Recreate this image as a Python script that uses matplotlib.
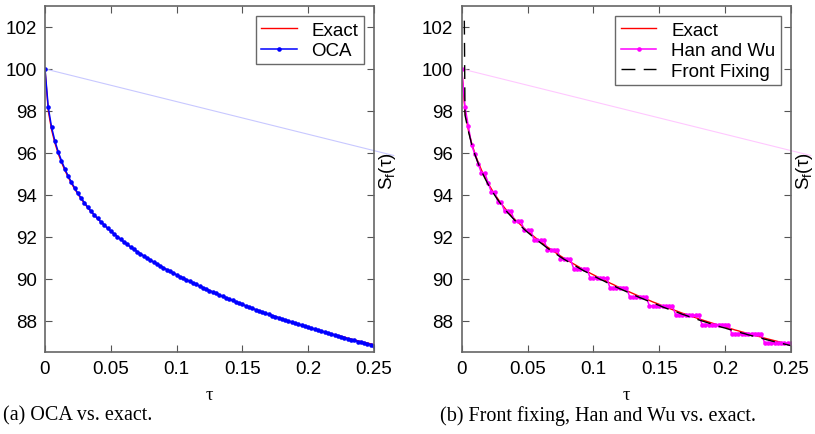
import numpy as np
import matplotlib
matplotlib.use('Agg')
import matplotlib.pyplot as plt

# time grid, dt = 0.0025
tau = np.linspace(0, 0.25, 101)

exact = [
    100.00, 98.00, 97.10, 96.47, 95.97, 95.55, 95.18, 94.85, 94.55, 94.28,
    94.03, 93.80, 93.58, 93.38, 93.19, 93.02, 92.85, 92.70, 92.55, 92.40,
    92.26, 92.13, 92.00, 91.87, 91.75, 91.63, 91.51, 91.40, 91.29, 91.19,
    91.08, 90.98, 90.89, 90.79, 90.70, 90.61, 90.52, 90.43, 90.35, 90.26,
    90.18, 90.10, 90.02, 89.95, 89.87, 89.79, 89.72, 89.64, 89.57, 89.50,
    89.43, 89.36, 89.29, 89.22, 89.15, 89.09, 89.02, 88.96, 88.89, 88.83,
    88.77, 88.70, 88.64, 88.58, 88.52, 88.47, 88.41, 88.35, 88.30, 88.24,
    88.19, 88.14, 88.08, 88.03, 87.98, 87.93, 87.88, 87.83, 87.78, 87.73,
    87.69, 87.64, 87.60, 87.55, 87.51, 87.46, 87.42, 87.37, 87.33, 87.29,
    87.25, 87.21, 87.16, 87.12, 87.08, 87.04, 87.00, 86.96, 86.93, 86.89,
    86.85]

oca = [
    100.00, 98.16, 97.22, 96.57, 96.06, 95.63, 95.25, 94.91, 94.61, 94.33,
    94.07, 93.84, 93.62, 93.41, 93.22, 93.04, 92.87, 92.71, 92.56, 92.41,
    92.27, 92.13, 92.00, 91.87, 91.75, 91.63, 91.51, 91.40, 91.29, 91.19,
    91.08, 90.98, 90.89, 90.79, 90.70, 90.61, 90.52, 90.43, 90.35, 90.26,
    90.18, 90.10, 90.02, 89.95, 89.87, 89.79, 89.72, 89.64, 89.57, 89.50,
    89.43, 89.36, 89.29, 89.22, 89.15, 89.09, 89.02, 88.96, 88.89, 88.83,
    88.77, 88.70, 88.64, 88.58, 88.52, 88.47, 88.41, 88.35, 88.30, 88.24,
    88.19, 88.14, 88.08, 88.03, 87.98, 87.93, 87.88, 87.83, 87.78, 87.73,
    87.69, 87.64, 87.59, 87.54, 87.50, 87.45, 87.40, 87.35, 87.31, 87.27,
    87.22, 87.18, 87.13, 87.09, 87.05, 87.00, 86.96, 86.92, 86.88, 86.84,
    86.80]

han_wu = [
    100.00, 98.18, 97.28, 96.38, 95.93, 95.48, 95.03, 95.03, 94.58, 94.13,
    94.13, 93.65, 93.65, 93.22, 93.22, 93.22, 92.74, 92.74, 92.74, 92.30,
    92.30, 92.30, 91.82, 91.82, 91.82, 91.82, 91.38, 91.38, 91.38, 91.38,
    90.92, 90.92, 90.92, 90.92, 90.48, 90.48, 90.48, 90.48, 90.48, 90.03,
    90.03, 90.03, 90.03, 90.03, 90.03, 89.57, 89.57, 89.57, 89.57, 89.57,
    89.57, 89.13, 89.13, 89.13, 89.13, 89.13, 89.13, 88.70, 88.70, 88.70,
    88.70, 88.70, 88.70, 88.70, 88.70, 88.25, 88.25, 88.25, 88.25, 88.25,
    88.25, 88.25, 88.25, 87.81, 87.81, 87.81, 87.81, 87.81, 87.81, 87.81,
    87.81, 87.81, 87.38, 87.38, 87.38, 87.38, 87.38, 87.38, 87.38, 87.38,
    87.38, 87.38, 86.92, 86.92, 86.92, 86.92, 86.92, 86.92, 86.92, 86.92,
    86.92]

# front fixing starts slightly after 0 with an overshoot
ff_tau = np.r_[0.002, tau[1:]]
front_fix = [
    102.30, 97.80, 97.05, 96.42, 95.92, 95.50, 95.13, 94.80, 94.50, 94.23,
    93.98, 93.75, 93.53, 93.33, 93.14, 92.97, 92.80, 92.65, 92.50, 92.35,
    92.21, 92.08, 91.95, 91.82, 91.70, 91.58, 91.46, 91.35, 91.24, 91.14,
    91.03, 90.93, 90.84, 90.74, 90.65, 90.56, 90.47, 90.38, 90.30, 90.21,
    90.13, 90.05, 89.97, 89.90, 89.82, 89.74, 89.67, 89.59, 89.52, 89.45,
    89.38, 89.31, 89.24, 89.17, 89.10, 89.04, 88.97, 88.91, 88.84, 88.78,
    88.72, 88.65, 88.59, 88.53, 88.47, 88.42, 88.36, 88.30, 88.25, 88.19,
    88.14, 88.09, 88.03, 87.98, 87.93, 87.88, 87.83, 87.78, 87.73, 87.68,
    87.64, 87.59, 87.55, 87.50, 87.46, 87.41, 87.37, 87.32, 87.28, 87.24,
    87.20, 87.16, 87.11, 87.07, 87.03, 86.99, 86.95, 86.91, 86.88, 86.84,
    86.80]

# faint line running to the S_f label
guide_tau = [0.0, 0.265]
guide_val = [100.0, 95.87]

xticks = [0, 0.05, 0.1, 0.15, 0.2, 0.25]
xticklabels = ['0', '0.05', '0.1', '0.15', '0.2', '0.25']
yticks = [88, 90, 92, 94, 96, 98, 100, 102]
captions = ['(a) OCA vs. exact.', '(b) Front fixing, Han and Wu vs. exact.']

plt.rcParams['font.family'] = ['Liberation Sans', 'DejaVu Sans']
plt.rcParams['mathtext.fontset'] = 'custom'
plt.rcParams['mathtext.rm'] = 'Liberation Sans'

fig = plt.figure(figsize=(8.15, 4.35), dpi=100)
fig.patch.set_facecolor('white')
ax1 = fig.add_axes([0.0552, 0.1885, 0.4037, 0.7954])
ax2 = fig.add_axes([0.5665, 0.1885, 0.4041, 0.7954])

ax1.plot(guide_tau, guide_val, color='#c8c8ff', lw=0.8, clip_on=False)
ax1.plot(tau, exact, color='red', lw=1.0, label='Exact')
ax1.plot(tau, oca, color='blue', lw=1.1, marker='o', ms=3.3, mec='none', label='OCA')

ax2.plot(guide_tau, guide_val, color='#ffc8ff', lw=0.8, clip_on=False)
ax2.plot(tau, exact, color='red', lw=1.0, label='Exact')
ax2.plot(tau, han_wu, color='magenta', lw=1.1, marker='o', ms=3.3, mec='none', label='Han and Wu')
ax2.plot(ff_tau, front_fix, color='black', lw=1.0, dashes=(10, 6), label='Front Fixing')

cap_x = [0.004, 0.54]
for ax, cap, cx in zip([ax1, ax2], captions, cap_x):
    ax.set_xlim(0, 0.25)
    ax.set_ylim(86.5, 103)
    ax.set_xticks(xticks)
    ax.set_xticklabels(xticklabels)
    ax.set_yticks(yticks)
    ax.tick_params(direction='in', length=5, width=0.8, color='#555555',
                   labelsize=13.5, top=True, right=True, pad=6)
    for sp in ax.spines.values():
        sp.set_color('#666666')
        sp.set_linewidth(1.2)
    ax.set_xlabel('τ', fontsize=13.5, family='Liberation Serif', labelpad=6)
    ax.text(0.2525, 96.05, r'S$_\mathrm{f}$(τ)', rotation=90, ha='left', va='top',
            fontsize=13.5, clip_on=False)
    leg = ax.legend(loc='upper right', fontsize=13.5, frameon=True, fancybox=False,
                    borderaxespad=0.55, handlelength=1.9, borderpad=0.28,
                    labelspacing=0.18, handletextpad=0.8)
    leg.get_frame().set_edgecolor('#444444')
    leg.get_frame().set_linewidth(1.0)
    fig.text(cx, 0.043, cap, family='Liberation Serif', fontsize=14.5,
             ha='left', va='center')

fig.savefig('out.png', dpi=100, facecolor='white')
